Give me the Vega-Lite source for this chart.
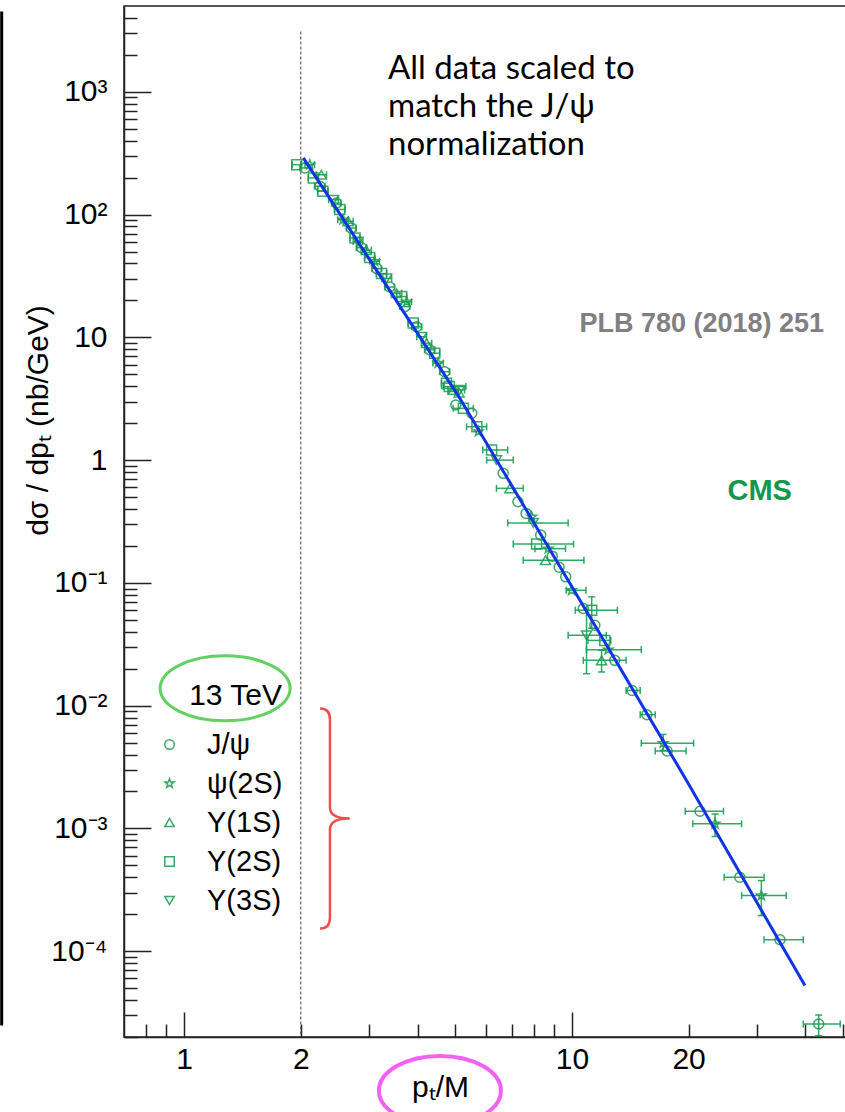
{
  "$schema": "https://vega.github.io/schema/vega-lite/v6.json",
  "width": 735,
  "height": 1031,
  "autosize": {"type": "none"},
  "padding": {"left": 124, "top": 6, "right": 0, "bottom": 75},
  "background": "white",
  "config": {
    "view": {"stroke": "#222", "strokeWidth": 1.5},
    "axis": {
      "labelFont": "Liberation Sans", "labelFontSize": 30, "labelColor": "black",
      "titleFont": "Liberation Sans", "titleFontSize": 30, "titleFontWeight": "normal", "titleColor": "black",
      "domainColor": "#222", "domainWidth": 1.5, "tickColor": "#222", "tickWidth": 1.5,
      "grid": false, "labelFlush": false, "labelOverlap": false, "labelBound": false
    }
  },
  "datasets": {
    "pts": [
      {"s":"Υ(2S)","x":1.952,"y":255,"xl":1.90,"xh":2.00},
      {"s":"J/ψ","x":2.05,"y":240,"xl":1.99,"xh":2.11},
      {"s":"ψ(2S)","x":2.11,"y":255,"xl":2.05,"xh":2.17},
      {"s":"Υ(2S)","x":2.155,"y":199,"xl":2.09,"xh":2.22},
      {"s":"Υ(1S)","x":2.26,"y":211,"xl":2.19,"xh":2.33},
      {"s":"J/ψ","x":2.24,"y":170,"xl":2.17,"xh":2.31},
      {"s":"Υ(2S)","x":2.28,"y":155,"xl":2.21,"xh":2.35},
      {"s":"Υ(3S)","x":2.43,"y":132,"xl":2.36,"xh":2.50},
      {"s":"J/ψ","x":2.47,"y":124,"xl":2.40,"xh":2.54},
      {"s":"Υ(2S)","x":2.52,"y":110,"xl":2.44,"xh":2.60},
      {"s":"ψ(2S)","x":2.57,"y":90.8,"xl":2.49,"xh":2.65},
      {"s":"Υ(1S)","x":2.65,"y":88.1,"xl":2.57,"xh":2.73},
      {"s":"J/ψ","x":2.70,"y":77.6,"xl":2.62,"xh":2.78},
      {"s":"Υ(2S)","x":2.76,"y":64.6,"xl":2.68,"xh":2.84},
      {"s":"Υ(3S)","x":2.81,"y":60.3,"xl":2.73,"xh":2.89},
      {"s":"J/ψ","x":2.87,"y":53.7,"xl":2.78,"xh":2.96},
      {"s":"Υ(1S)","x":2.95,"y":51.3,"xl":2.86,"xh":3.04},
      {"s":"Υ(2S)","x":3.01,"y":44.7,"xl":2.92,"xh":3.10},
      {"s":"ψ(2S)","x":3.10,"y":41.7,"xl":3.01,"xh":3.19},
      {"s":"J/ψ","x":3.14,"y":36.3,"xl":3.05,"xh":3.23},
      {"s":"Υ(2S)","x":3.23,"y":33.1,"xl":3.13,"xh":3.33},
      {"s":"Υ(3S)","x":3.33,"y":30.2,"xl":3.23,"xh":3.43},
      {"s":"J/ψ","x":3.39,"y":25.7,"xl":3.29,"xh":3.49},
      {"s":"Υ(1S)","x":3.53,"y":22.9,"xl":3.42,"xh":3.64},
      {"s":"Υ(2S)","x":3.64,"y":21.5,"xl":3.53,"xh":3.75},
      {"s":"ψ(2S)","x":3.75,"y":19.5,"xl":3.64,"xh":3.86},
      {"s":"J/ψ","x":3.71,"y":17.8,"xl":3.60,"xh":3.82},
      {"s":"Υ(2S)","x":3.90,"y":13.1,"xl":3.78,"xh":4.02},
      {"s":"J/ψ","x":3.98,"y":12.2,"xl":3.86,"xh":4.10},
      {"s":"Υ(3S)","x":4.10,"y":10.1,"xl":3.98,"xh":4.22},
      {"s":"Υ(1S)","x":4.22,"y":8.97,"xl":4.09,"xh":4.35},
      {"s":"J/ψ","x":4.30,"y":7.91,"xl":4.17,"xh":4.43},
      {"s":"Υ(2S)","x":4.43,"y":7.43,"xl":4.30,"xh":4.56},
      {"s":"ψ(2S)","x":4.52,"y":6.17,"xl":4.38,"xh":4.66},
      {"s":"J/ψ","x":4.70,"y":5.25,"xl":4.56,"xh":4.84},
      {"s":"Υ(2S)","x":4.75,"y":4.23,"xl":4.61,"xh":4.89},
      {"s":"Υ(1S)","x":4.94,"y":3.73,"xl":4.79,"xh":5.09},
      {"s":"Υ(3S)","x":5.14,"y":3.73,"xl":4.99,"xh":5.29},
      {"s":"Υ(2S)","x":4.83,"y":3.97,"xl":4.66,"xh":5.33},
      {"s":"Υ(1S)","x":5.12,"y":3.55},
      {"s":"J/ψ","x":5.02,"y":2.81},
      {"s":"Υ(2S)","x":5.25,"y":2.64,"xl":4.94,"xh":5.57},
      {"s":"J/ψ","x":5.52,"y":2.41},
      {"s":"Υ(2S)","x":5.69,"y":1.87,"xl":5.35,"xh":6.03},
      {"s":"ψ(2S)","x":5.74,"y":1.71},
      {"s":"Υ(2S)","x":6.21,"y":1.21,"xl":5.89,"xh":6.83},
      {"s":"Υ(3S)","x":6.39,"y":1.0,"xl":6.03,"xh":7.06},
      {"s":"J/ψ","x":6.65,"y":0.78},
      {"s":"Υ(1S)","x":6.92,"y":0.589,"xl":6.39,"xh":7.49},
      {"s":"J/ψ","x":7.26,"y":0.458},
      {"s":"J/ψ","x":7.62,"y":0.368},
      {"s":"ψ(2S)","x":7.88,"y":0.345},
      {"s":"Υ(3S)","x":7.95,"y":0.308,"xl":6.83,"xh":9.78},
      {"s":"J/ψ","x":8.31,"y":0.245},
      {"s":"Υ(2S)","x":8.11,"y":0.207,"xl":7.06,"xh":10.1},
      {"s":"ψ(2S)","x":8.69,"y":0.19,"xl":8.03,"xh":9.63},
      {"s":"Υ(1S)","x":8.55,"y":0.153,"xl":7.49,"xh":10.74},
      {"s":"J/ψ","x":8.90,"y":0.165},
      {"s":"J/ψ","x":9.27,"y":0.134},
      {"s":"J/ψ","x":9.64,"y":0.112},
      {"s":"ψ(2S)","x":9.98,"y":0.087,"xl":9.67,"xh":10.87},
      {"s":"J/ψ","x":10.7,"y":0.0618},
      {"s":"Υ(2S)","x":11.25,"y":0.0598,"xl":10.2,"xh":13.1,"yl":0.0427,"yh":0.0769},
      {"s":"J/ψ","x":11.46,"y":0.0452},
      {"s":"Υ(3S)","x":10.91,"y":0.0374,"xl":9.78,"xh":12.27,"yl":0.0182,"yh":0.0598},
      {"s":"Υ(2S)","x":12.16,"y":0.034,"xl":11.0,"xh":12.6},
      {"s":"ψ(2S)","x":12.4,"y":0.0286,"xl":10.9,"xh":15.1},
      {"s":"Υ(1S)","x":11.93,"y":0.0234,"xl":10.7,"xh":13.8,"yl":0.0188,"yh":0.0282},
      {"s":"J/ψ","x":12.9,"y":0.0234},
      {"s":"J/ψ","x":14.3,"y":0.0133,"xl":13.8,"xh":15.0},
      {"s":"J/ψ","x":15.6,"y":0.00845,"xl":15.0,"xh":16.4},
      {"s":"ψ(2S)","x":17.2,"y":0.00495,"xl":15.1,"xh":20.6,"yl":0.00432,"yh":0.00583},
      {"s":"J/ψ","x":17.6,"y":0.00427,"xl":16.4,"xh":19.7},
      {"s":"J/ψ","x":21.4,"y":0.00138,"xl":19.6,"xh":24.6},
      {"s":"ψ(2S)","x":23.4,"y":0.00109,"xl":20.5,"xh":27.4,"yl":0.00086,"yh":0.00131},
      {"s":"J/ψ","x":27.1,"y":0.0004,"xl":24.7,"xh":31.3},
      {"s":"ψ(2S)","x":30.8,"y":0.000284,"xl":27.4,"xh":35.7,"yl":0.000195,"yh":0.000376},
      {"s":"J/ψ","x":34.4,"y":0.000124,"xl":31.3,"xh":39.5},
      {"s":"J/ψ","x":43.3,"y":0.0000255,"xl":39.5,"xh":49.2,"yl":0.0000205,"yh":0.0000302}
    ],
    "fit": [
      {"x":2.03,"y":290},{"x":3,"y":43.6},{"x":5.14,"y":3.19},{"x":8,"y":0.305},
      {"x":11.58,"y":0.0427},{"x":15,"y":0.0107},{"x":19.75,"y":0.00246},
      {"x":28,"y":0.000364},{"x":39.9,"y":0.0000525}
    ]
  },
  "layer": [
    {
      "data": {"values": [{"x":0.3386,"y":4520,"y2":0.0000248}]},
      "mark": {"type":"rule","color":"black","strokeWidth":3},
      "encoding": {
        "x": {"field":"x","type":"quantitative","scale":{"type":"log","domain":[0.7,55],"nice":false},
          "axis": {
            "title": "pₜ/M",
            "values": [0.8,0.9,1,2,3,4,5,6,7,8,9,10,20,30,40,50],
            "labelExpr": "indexof([1,2,10,20], datum.value) >= 0 ? '' + datum.value : ''",
            "tickSize": {"condition": {"test": "datum.value == 1 || datum.value == 10", "value": -25}, "value": -13},
            "labelPadding": {"condition": {"test": "datum.value == 1 || datum.value == 10", "value": 32}, "value": 20},
            "titleX": 316, "titleY": 50, "titleBaseline": "middle", "titleAlign": "center"
          }
        },
        "y": {"field":"y","type":"quantitative","scale":{"type":"log","domain":[0.00002,5000],"nice":false},
          "axis": {
            "title": "dσ / dpₜ (nb/GeV)",
            "values": [0.00002,0.00003,0.00004,0.00005,0.00006,0.00007,0.00008,0.00009,
                       0.0001,0.0002,0.0003,0.0004,0.0005,0.0006,0.0007,0.0008,0.0009,
                       0.001,0.002,0.003,0.004,0.005,0.006,0.007,0.008,0.009,
                       0.01,0.02,0.03,0.04,0.05,0.06,0.07,0.08,0.09,
                       0.1,0.2,0.3,0.4,0.5,0.6,0.7,0.8,0.9,
                       1,2,3,4,5,6,7,8,9,10,20,30,40,50,60,70,80,90,
                       100,200,300,400,500,600,700,800,900,1000,2000,3000,4000],
            "labelExpr": "datum.value == 1000 ? '10³' : datum.value == 100 ? '10²' : datum.value == 10 ? '10' : datum.value == 1 ? '1' : datum.value == 0.1 ? '10⁻¹' : datum.value == 0.01 ? '10⁻²' : datum.value == 0.001 ? '10⁻³' : datum.value == 0.0001 ? '10⁻⁴' : ''",
            "tickSize": {"condition": {"test": "indexof([0.0001,0.001,0.01,0.1,1,10,100,1000], datum.value) >= 0", "value": -27}, "value": -13},
            "labelPadding": 44,
            "titleX": -86, "titleY": 414, "titleAngle": 270, "titleBaseline": "middle", "titleAlign": "center"
          }
        },
        "y2": {"field":"y2"}
      }
    },
    {
      "data": {"values": [{"x":2,"y":3100,"y2":0.00002}]},
      "mark": {"type":"rule","color":"#444","strokeWidth":1,"strokeDash":[3,2]},
      "encoding": {
        "x": {"field":"x","type":"quantitative","scale":{"type":"log","domain":[0.7,55],"nice":false}},
        "y": {"field":"y","type":"quantitative","scale":{"type":"log","domain":[0.00002,5000],"nice":false}},
        "y2": {"field":"y2"}
      }
    },
    {
      "data": {"name":"pts"},
      "transform": [{"filter":"isValid(datum.xl)"}],
      "mark": {"type":"rule","color":"#18a050","strokeWidth":1.5,"opacity":0.9},
      "encoding": {
        "x": {"field":"xl","type":"quantitative","scale":{"type":"log","domain":[0.7,55],"nice":false}},
        "x2": {"field":"xh"},
        "y": {"field":"y","type":"quantitative","scale":{"type":"log","domain":[0.00002,5000],"nice":false}}
      }
    },
    {
      "data": {"name":"pts"},
      "transform": [{"fold":["xl","xh"],"as":["k","v"]},{"filter":"isValid(datum.v)"}],
      "mark": {"type":"tick","orient":"vertical","color":"#18a050","thickness":1.5,"size":7,"opacity":0.9},
      "encoding": {
        "x": {"field":"v","type":"quantitative","scale":{"type":"log","domain":[0.7,55],"nice":false}},
        "y": {"field":"y","type":"quantitative","scale":{"type":"log","domain":[0.00002,5000],"nice":false}}
      }
    },
    {
      "data": {"name":"pts"},
      "transform": [{"filter":"isValid(datum.yl)"}],
      "mark": {"type":"rule","color":"#18a050","strokeWidth":1.5,"opacity":0.9},
      "encoding": {
        "x": {"field":"x","type":"quantitative","scale":{"type":"log","domain":[0.7,55],"nice":false}},
        "y": {"field":"yl","type":"quantitative","scale":{"type":"log","domain":[0.00002,5000],"nice":false}},
        "y2": {"field":"yh"}
      }
    },
    {
      "data": {"name":"pts"},
      "transform": [{"fold":["yl","yh"],"as":["k","v"]},{"filter":"isValid(datum.v)"}],
      "mark": {"type":"tick","orient":"horizontal","color":"#18a050","thickness":1.5,"size":7,"opacity":0.9},
      "encoding": {
        "x": {"field":"x","type":"quantitative","scale":{"type":"log","domain":[0.7,55],"nice":false}},
        "y": {"field":"v","type":"quantitative","scale":{"type":"log","domain":[0.00002,5000],"nice":false}}
      }
    },
    {
      "data": {"name":"pts"},
      "mark": {"type":"point","filled":false,"strokeWidth":1.5,"opacity":0.85,"size":100},
      "encoding": {
        "x": {"field":"x","type":"quantitative","scale":{"type":"log","domain":[0.7,55],"nice":false}},
        "y": {"field":"y","type":"quantitative","scale":{"type":"log","domain":[0.00002,5000],"nice":false}},
        "shape": {"field":"s","type":"nominal",
          "scale": {"domain":["J/ψ","ψ(2S)","Υ(1S)","Υ(2S)","Υ(3S)"],
                    "range":["circle","M0,-1L0.235,-0.324L0.951,-0.309L0.38,0.124L0.588,0.809L0,0.4L-0.588,0.809L-0.38,0.124L-0.951,-0.309L-0.235,-0.324Z","triangle-up","square","triangle-down"]},
          "legend": {
            "orient":"none","legendX":31,"legendY":675,"padding":0,
            "title":"13 TeV","titleFont":"Liberation Sans","titleFontSize":30,"titleFontWeight":"normal","titleColor":"black",
            "titleAnchor":"end","titlePadding":19,
            "labelFont":"Liberation Sans","labelFontSize":29,"labelColor":"black","labelOffset":23,
            "rowPadding":9,"symbolSize":90,"symbolStrokeColor":"#1a9a50","symbolFillColor":"transparent","symbolStrokeWidth":1.5
          }
        },
        "color": {"value":"#1a9a50"}
      }
    },
    {
      "data": {"name":"fit"},
      "mark": {"type":"line","color":"#1034e6","strokeWidth":3},
      "encoding": {
        "x": {"field":"x","type":"quantitative","scale":{"type":"log","domain":[0.7,55],"nice":false}},
        "y": {"field":"y","type":"quantitative","scale":{"type":"log","domain":[0.00002,5000],"nice":false}}
      }
    },
    {
      "data": {"values": [{"x":3.356,"y":1260,"t":"All data scaled to\nmatch the J/ψ\nnormalization"}]},
      "mark": {"type":"text","font":"Lato","fontSize":33,"align":"left","baseline":"alphabetic","lineBreak":"\n","lineHeight":38,"color":"black"},
      "encoding": {
        "x": {"field":"x","type":"quantitative","scale":{"type":"log","domain":[0.7,55],"nice":false}},
        "y": {"field":"y","type":"quantitative","scale":{"type":"log","domain":[0.00002,5000],"nice":false}},
        "text": {"field":"t"}
      }
    },
    {
      "data": {"values": [{"x":21.63,"y":11.09,"t":"PLB 780 (2018) 251"}]},
      "mark": {"type":"text","font":"Liberation Sans","fontSize":27,"fontWeight":"bold","align":"center","baseline":"alphabetic","color":"#808080"},
      "encoding": {
        "x": {"field":"x","type":"quantitative","scale":{"type":"log","domain":[0.7,55],"nice":false}},
        "y": {"field":"y","type":"quantitative","scale":{"type":"log","domain":[0.00002,5000],"nice":false}},
        "text": {"field":"t"}
      }
    },
    {
      "data": {"values": [{"x":30.5,"y":0.473,"t":"CMS"}]},
      "mark": {"type":"text","font":"Liberation Sans","fontSize":29,"fontWeight":"bold","align":"center","baseline":"alphabetic","color":"#15964a"},
      "encoding": {
        "x": {"field":"x","type":"quantitative","scale":{"type":"log","domain":[0.7,55],"nice":false}},
        "y": {"field":"y","type":"quantitative","scale":{"type":"log","domain":[0.00002,5000],"nice":false}},
        "text": {"field":"t"}
      }
    },
    {
      "data": {"values": [{"x":1.276,"y":0.01384}]},
      "mark": {"type":"point","filled":false,"strokeWidth":3,"color":"#22bd22","size":16900,"shape":"M-1,0A1,0.5,0,1,0,1,0A1,0.5,0,1,0,-1,0Z"},
      "encoding": {
        "x": {"field":"x","type":"quantitative","scale":{"type":"log","domain":[0.7,55],"nice":false}},
        "y": {"field":"y","type":"quantitative","scale":{"type":"log","domain":[0.00002,5000],"nice":false}}
      }
    },
    {
      "data": {"values": [{"x":4.568,"y":0.00000731}]},
      "mark": {"type":"point","filled":false,"strokeWidth":4,"color":"#f01ef0","size":14884,"shape":"M-1,0A1,0.57,0,1,0,1,0A1,0.57,0,1,0,-1,0Z"},
      "encoding": {
        "x": {"field":"x","type":"quantitative","scale":{"type":"log","domain":[0.7,55],"nice":false}},
        "y": {"field":"y","type":"quantitative","scale":{"type":"log","domain":[0.00002,5000],"nice":false}}
      }
    },
    {
      "data": {"values": [{"x":2.378,"y":0.001205}]},
      "mark": {"type":"point","filled":false,"strokeWidth":2.5,"color":"#f00000","size":48400,"shape":"M-0.09,-1Q0,-1,0,-0.9L0,-0.1Q0,0,0.18,0Q0,0,0,0.1L0,0.9Q0,1,-0.09,1"},
      "encoding": {
        "x": {"field":"x","type":"quantitative","scale":{"type":"log","domain":[0.7,55],"nice":false}},
        "y": {"field":"y","type":"quantitative","scale":{"type":"log","domain":[0.00002,5000],"nice":false}}
      }
    }
  ]
}
